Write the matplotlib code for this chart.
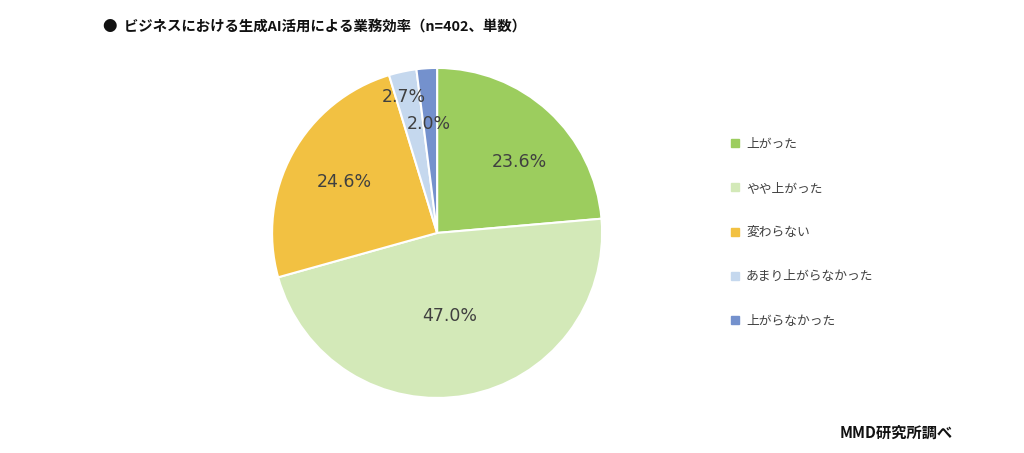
import numpy as np
import matplotlib
matplotlib.use('Agg')
import matplotlib.pyplot as plt
from matplotlib.lines import Line2D

plt.rcParams['font.family'] = ['Noto Sans CJK JP', 'DejaVu Sans']

# data
labels = ['上がった', 'やや上がった', '変わらない', 'あまり上がらなかった', '上がらなかった']
values = [23.6, 47.0, 24.6, 2.7, 2.0]
colors = ['#9ccd5e', '#d3e9b8', '#f2c142', '#c5d8ee', '#7491cd']
# label placement (radius, angle shift in deg)
label_r = [0.66, 0.51, 0.64, 0.85, 0.66]
label_shift = [-6.5, -2.0, 0.0, 1.5, 1.0]

title = '●  ビジネスにおける生成AI活用による業務効率（n=402、単数）'
source = 'MMD研究所調べ'

fig = plt.figure(figsize=(10.24, 4.53), dpi=100)
ax = fig.add_axes([0.2657, 0.1215, 0.3223, 0.7285])

wedges, _ = ax.pie(values, colors=colors, startangle=90, counterclock=False,
                   radius=1.0, wedgeprops=dict(edgecolor='white', linewidth=1.5))
ax.set_xlim(-1, 1)
ax.set_ylim(-1, 1)
ax.set_aspect('equal')
ax.axis('off')

# data labels
for w, v, r, s in zip(wedges, values, label_r, label_shift):
    ang = np.deg2rad((w.theta1 + w.theta2) / 2 + s)
    ax.text(r * np.cos(ang), r * np.sin(ang), f'{v:.1f}%', ha='center', va='center',
            fontsize=12.5, color='#404040', family=['DejaVu Sans'])

# legend
handles = [Line2D([], [], marker='s', linestyle='none', markersize=5.5,
                  markerfacecolor=c, markeredgecolor=c) for c in colors]
fig.legend(handles, labels, loc='upper left', bbox_to_anchor=(0.703, 0.722),
           frameon=False, fontsize=9.2, labelspacing=2.45, handlelength=0.6,
           handletextpad=0.55, labelcolor='#404040')

fig.text(0.101, 0.94, title, fontsize=10.4, fontweight='bold', color='#111111',
         ha='left', va='center')
fig.text(0.93, 0.045, source, fontsize=11, fontweight='bold', color='#111111',
         ha='right', va='center')

fig.savefig('out.png', dpi=100, facecolor='white')
